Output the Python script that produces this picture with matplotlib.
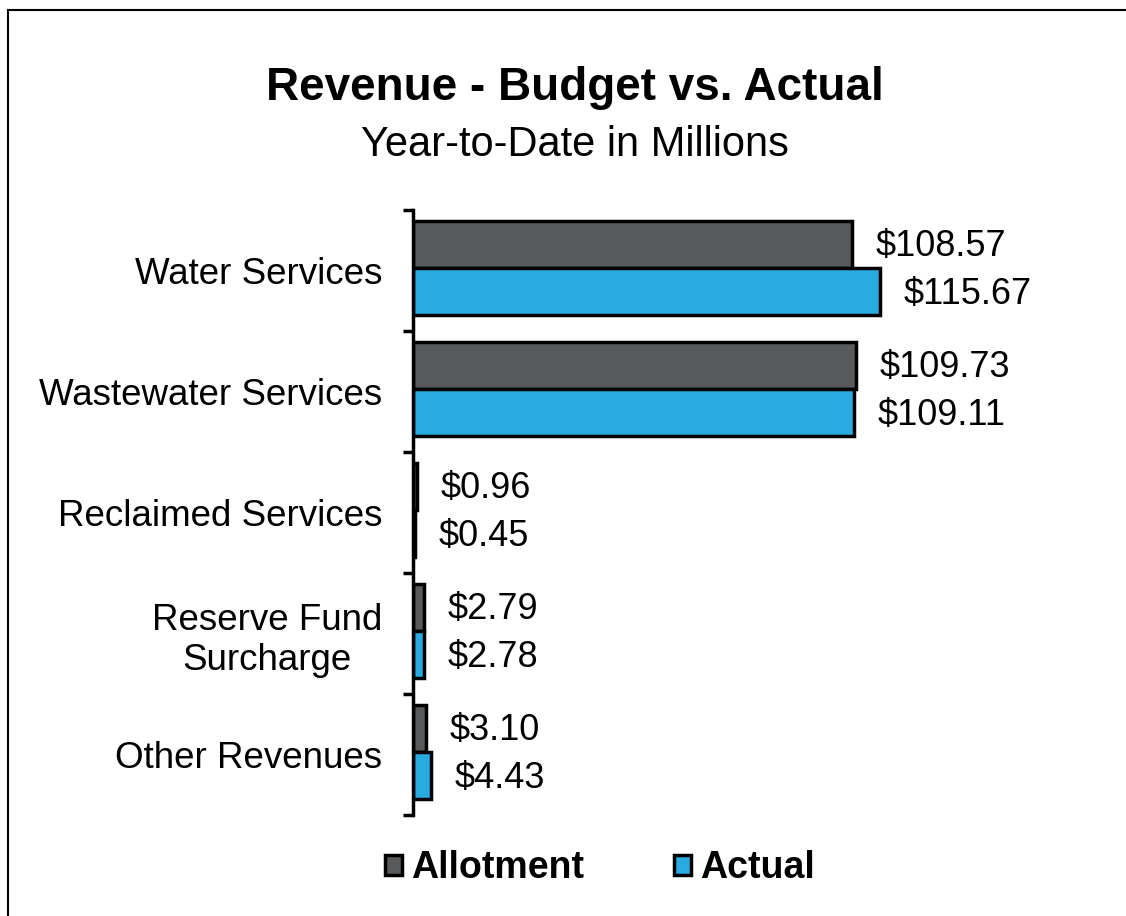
import matplotlib.pyplot as plt
from matplotlib.lines import Line2D
from matplotlib.patches import Patch

plt.rcParams['font.family'] = ['Liberation Sans', 'DejaVu Sans']

categories = ["Water Services", "Wastewater Services", "Reclaimed Services",
              "Reserve Fund\nSurcharge", "Other Revenues"]
allotment = [108.57, 109.73, 0.96, 2.79, 3.10]
actual = [115.67, 109.11, 0.45, 2.78, 4.43]

gray = "#58595B"
blue = "#29ABE2"

fig = plt.figure(figsize=(11.26, 9.16), dpi=100)
ax = fig.add_axes([413/1126, 1 - 815/916, 687/1126, 605/916])

y = list(range(len(categories)))
h = 0.39
ax.barh([i - h/2 - 0.02 for i in y], allotment, height=h, color=gray, edgecolor="black", linewidth=2.5)
ax.barh([i + h/2 - 0.02 for i in y], actual, height=h, color=blue, edgecolor="black", linewidth=2.5)

for i in y:
    ax.annotate(f"${allotment[i]:.2f}", (allotment[i], i - h/2), xytext=(17, 0),
                textcoords="offset points", va="center", ha="left", fontsize=26)
    ax.annotate(f"${actual[i]:.2f}", (actual[i], i + h/2), xytext=(17, 0),
                textcoords="offset points", va="center", ha="left", fontsize=26)

ax.set_ylim(len(categories) - 0.5, -0.5)
ax.set_xlim(0, 170)
ax.set_yticks(y)
ax.set_yticklabels(categories, fontsize=26.5, multialignment="center")
ax.set_yticks([i - 0.5 for i in range(len(categories) + 1)], minor=True)
ax.tick_params(axis="y", which="major", length=0, pad=22)
ax.tick_params(axis="y", which="minor", length=7, width=2.5, direction="out")
ax.set_xticks([])
for s in ["top", "right", "bottom"]:
    ax.spines[s].set_visible(False)
ax.spines["left"].set_linewidth(2.5)

fig.text(575/1126, 1 - 88/916, "Revenue - Budget vs. Actual", ha="center", va="center",
         fontsize=33, fontweight="bold")
fig.text(575/1126, 1 - 145/916, "Year-to-Date in Millions", ha="center", va="center",
         fontsize=30)

handles = [Patch(facecolor=gray, edgecolor="black", linewidth=2.5),
           Patch(facecolor=blue, edgecolor="black", linewidth=2.5)]
fig.legend(handles, ["Allotment", "Actual"], loc="center", bbox_to_anchor=(600/1126, 1 - 868/916),
           ncol=2, frameon=False, prop={"weight": "bold", "size": 27},
           handlelength=0.45, handleheight=0.45, handletextpad=0.25, columnspacing=2.4)

# outer border (left and top edges visible)
fig.add_artist(Line2D([8/1126, 8/1126], [0, 1 - 10/916], color="black", linewidth=1.5,
                      transform=fig.transFigure))
fig.add_artist(Line2D([8/1126, 1], [1 - 10/916, 1 - 10/916], color="black", linewidth=1.5,
                      transform=fig.transFigure))

fig.savefig("out.png", dpi=100)
